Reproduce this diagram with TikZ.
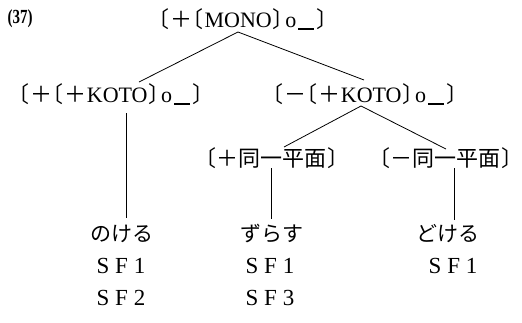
\documentclass[tikz,border=0pt]{standalone}
\usepackage{fontspec}
\setmainfont{Liberation Serif}
\newfontfamily\jp{Noto Sans CJK JP}
% half-width punctuation for the tortoise-shell brackets
\newfontfamily\jphalf{Noto Sans CJK JP}[RawFeature=+halt]
\newfontfamily\spaced{Liberation Serif}[LetterSpace=25]
\newcommand\lbk{{\jphalf 〔}\kern1pt}
\newcommand\rbk{\kern1pt{\jphalf 〕}}
\newcommand\pls{{\jp ＋}}
\newcommand\mns{{\jp －}}
\newcommand\objslot{\kern1.5pt o\kern2pt\rule[-2.5pt]{16pt}{1.1pt}\kern1pt}
\begin{document}
\begin{tikzpicture}[x=1pt,y=-1pt,
  every node/.style={inner sep=0pt, font=\fontsize{22}{25}\selectfont},
  feat/.style={anchor=base},
  word/.style={font=\fontsize{21}{24}\selectfont\jp},
  sf/.style={anchor=base, font=\fontsize{23}{26}\selectfont\spaced},
  branch/.style={line width=0.8pt}]
\useasboundingbox (0,0) rectangle (522,322);

% example number
\node (num) at (20,19) {\fontsize{20}{21}\selectfont\bfseries\scalebox{0.75}[1]{(37)}};

% feature tree
\node[feat] (top)    at (243,27)  {\lbk\pls\lbk MONO\rbk\objslot\rbk};
\node[feat] (kotoA)  at (111,102) {\lbk\pls\lbk\pls KOTO\rbk\objslot\rbk};
\node[feat] (kotoB)  at (365,102) {\lbk\mns\lbk\pls KOTO\rbk\objslot\rbk};
\node[feat] (planeA) at (272,166) {\lbk{\jp ＋同一平面}\rbk};
\node[feat] (planeB) at (446,166) {\lbk{\jp －同一平面}\rbk};

% verbs
\node[word] (wA) at (122,234) {のける};
\node[word] (wB) at (272,234) {ずらす};
\node[word] (wC) at (448,234) {どける};

% sentence frames
\node[sf] (sfA1) at (121,273) {SF1};
\node[sf] (sfA2) at (121,305) {SF2};
\node[sf] (sfB1) at (270,273) {SF1};
\node[sf] (sfB3) at (270,305) {SF3};
\node[sf] (sfC1) at (453,273) {SF1};

% branch points
\coordinate (topFoot)   at (238,32);
\coordinate (kotoAHead) at (139,82);
\coordinate (kotoBHead) at (364,80);
\coordinate (kotoAFoot) at (126,113);
\coordinate (wAHead)    at (126,218);
\coordinate (kotoBFoot) at (361,106);
\coordinate (planeAHead) at (284,147);
\coordinate (planeBHead) at (446,149);
\coordinate (planeAFoot) at (271,168);
\coordinate (wBHead)    at (271,219);
\coordinate (planeBFoot) at (454,168);
\coordinate (wCHead)    at (454,220);

\draw[branch] (topFoot) -- (kotoAHead);
\draw[branch] (topFoot) -- (kotoBHead);
\draw[branch] (kotoAFoot) -- (wAHead);
\draw[branch] (kotoBFoot) -- (planeAHead);
\draw[branch] (kotoBFoot) -- (planeBHead);
\draw[branch] (planeAFoot) -- (wBHead);
\draw[branch] (planeBFoot) -- (wCHead);
\end{tikzpicture}
\end{document}
